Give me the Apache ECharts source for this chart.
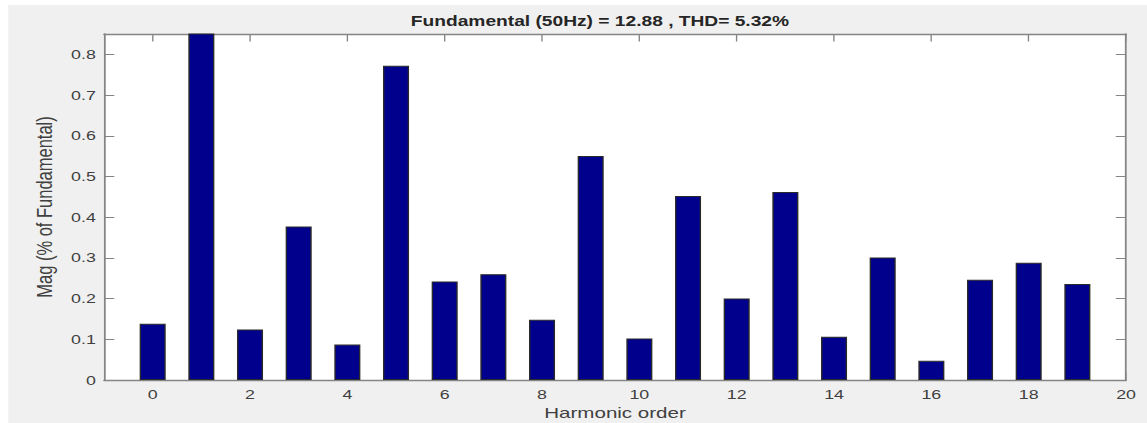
<!DOCTYPE html>
<html>
<head>
<meta charset="utf-8">
<script src="https://cdn.jsdelivr.net/npm/echarts@6/dist/echarts.min.js"></script>
<style>
  html, body { margin: 0; padding: 0; background: #ffffff; overflow: hidden; }
  #wrap { position: relative; width: 837px; height: 423px; transform: scaleX(1.37037); transform-origin: 0 0; }
  #bg { position: absolute; left: 5.8px; top: 5px; right: 0; bottom: 0; background: #f0f0f0; }
  #chart { position: absolute; left: 0; top: 0; width: 837px; height: 423px; }
</style>
</head>
<body>
<div id="wrap"><div id="bg"></div><div id="chart"></div></div>
<script>
// Data
const titleText = 'Fundamental (50Hz) = 12.88 , THD= 5.32%';
const xAxisTitle = 'Harmonic order';
const yAxisTitle = 'Mag (% of Fundamental)';
const harmonicOrders = [0, 1, 2, 3, 4, 5, 6, 7, 8, 9, 10, 11, 12, 13, 14, 15, 16, 17, 18, 19];
const magnitudes = [0.138, 100, 0.124, 0.377, 0.087, 0.772, 0.242, 0.260, 0.148, 0.550,
                    0.102, 0.452, 0.200, 0.462, 0.106, 0.301, 0.047, 0.246, 0.288, 0.236];
const xTickValues = [0, 2, 4, 6, 8, 10, 12, 14, 16, 18, 20];
const yTickValues = [0, 0.1, 0.2, 0.3, 0.4, 0.5, 0.6, 0.7, 0.8];

const FONT = '"Liberation Sans", Arial, Helvetica, sans-serif';
const AXIS_COLOR = '#858585';
const LABEL_COLOR = '#404040';

const chart = echarts.init(document.getElementById('chart'), null, { renderer: 'svg', width: 837, height: 423 });

const barData = harmonicOrders.map((h, i) => [h, magnitudes[i]]);

const tickStyle = (vals) => ({
  show: true, inside: true, length: 7.5, customValues: vals,
  lineStyle: { color: AXIS_COLOR, width: 1 }
});
const lineStyle = { show: true, onZero: false, lineStyle: { color: AXIS_COLOR, width: 1.3 } };

chart.setOption({
  backgroundColor: 'transparent',
  animation: false,
  title: {
    text: titleText,
    left: 437.8,
    top: 14,
    padding: 0,
    textAlign: 'center',
    textStyle: { fontFamily: FONT, fontSize: 14, fontWeight: 'bold', color: '#262626' }
  },
  grid: {
    left: 75.9, right: 15.3, top: 34, bottom: 43,
    outerBoundsMode: 'none',
    containLabel: false,
    show: true, backgroundColor: '#ffffff', borderWidth: 0
  },
  xAxis: [
    {
      type: 'value', position: 'bottom', min: -1, max: 20,
      name: xAxisTitle, nameLocation: 'middle', nameGap: 25.5,
      nameTextStyle: { fontFamily: FONT, fontSize: 15, color: LABEL_COLOR },
      axisLine: lineStyle,
      axisTick: tickStyle(xTickValues),
      axisLabel: { show: true, customValues: xTickValues, margin: 8, fontFamily: FONT, fontSize: 13, color: LABEL_COLOR },
      splitLine: { show: false }
    },
    {
      type: 'value', position: 'top', min: -1, max: 20,
      axisLine: lineStyle,
      axisTick: tickStyle(xTickValues),
      axisLabel: { show: false },
      splitLine: { show: false }
    }
  ],
  yAxis: [
    {
      type: 'value', position: 'left', min: 0, max: 0.85,
      name: yAxisTitle, nameLocation: 'middle', nameGap: 28,
      nameTextStyle: { fontFamily: FONT, fontSize: 16.5, color: LABEL_COLOR },
      axisLine: lineStyle,
      axisTick: tickStyle(yTickValues),
      axisLabel: { show: true, customValues: yTickValues, margin: 6, fontFamily: FONT, fontSize: 13, color: LABEL_COLOR },
      splitLine: { show: false }
    },
    {
      type: 'value', position: 'right', min: 0, max: 0.85,
      axisLine: lineStyle,
      axisTick: tickStyle(yTickValues),
      axisLabel: { show: false },
      splitLine: { show: false }
    }
  ],
  series: [
    {
      type: 'bar',
      xAxisIndex: 0,
      yAxisIndex: 0,
      data: barData,
      barWidth: 19,
      clip: true,
      itemStyle: { color: '#00008c', borderColor: '#2a2a2a', borderWidth: 1 },
      z: 1
    }
  ]
});
</script>
</body>
</html>
